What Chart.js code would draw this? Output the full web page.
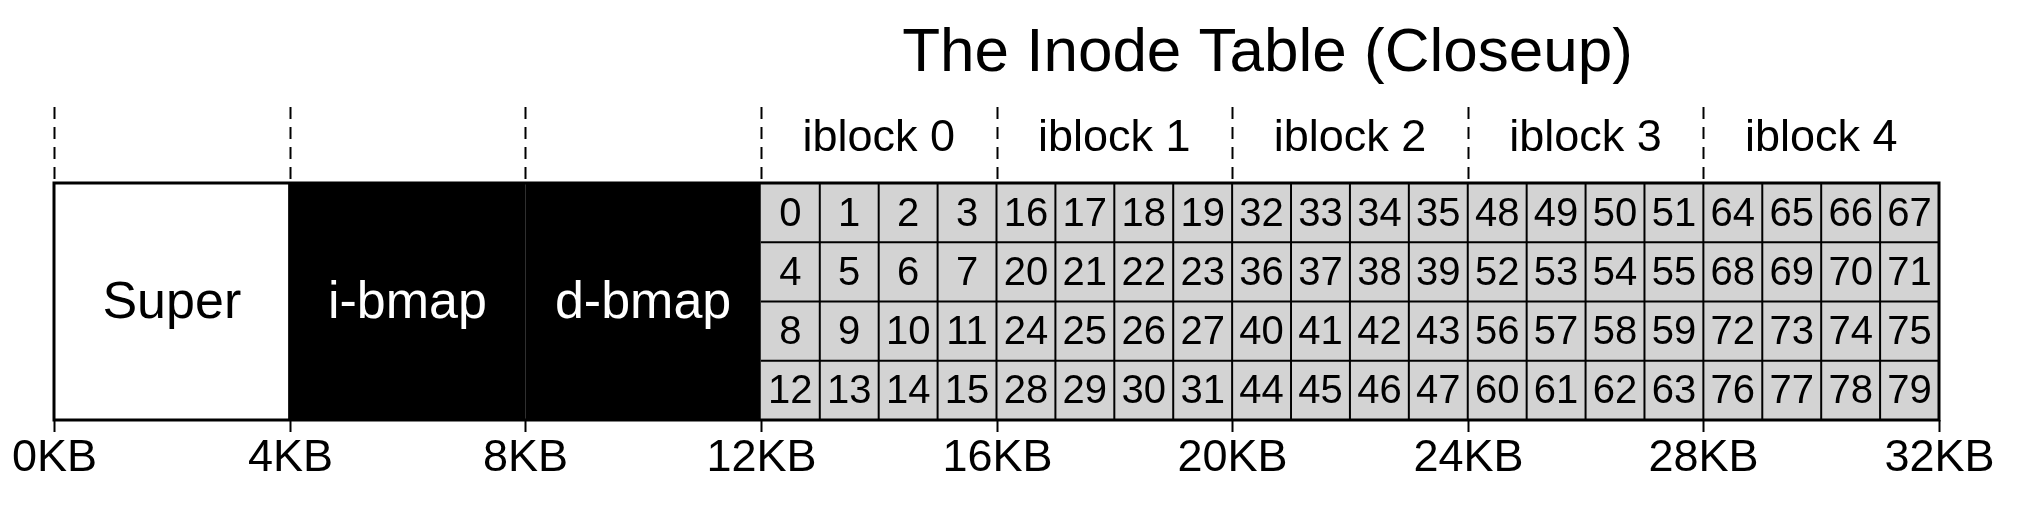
<!DOCTYPE html>
<html lang="en">
<head>
<meta charset="UTF-8">
<title>The Inode Table (Closeup)</title>
<script src="https://cdn.jsdelivr.net/npm/chart.js"></script>
<style>body{margin:0;background:#fff}</style>
</head>
<body>
<canvas id="c" width="2024" height="510"></canvas>
<script>
const title = 'The Inode Table (Closeup)';
const regionNames = ['Super', 'i-bmap', 'd-bmap'];
const regionStart = [0, 4, 8];
const regionEnd = [4, 8, 12];
const iblockNames = ['iblock 0', 'iblock 1', 'iblock 2', 'iblock 3', 'iblock 4'];
const iblockStart = [12, 16, 20, 24, 28];
const rowsPerBlock = 4, colsPerBlock = 4;
const tickValues = [0, 4, 8, 12, 16, 20, 24, 28, 32];
const tickLabels = ['0KB', '4KB', '8KB', '12KB', '16KB', '20KB', '24KB', '28KB', '32KB'];

const FONT = '"Liberation Sans", Arial, sans-serif';

const diagram = {
  id: 'diagram',
  afterDraw(chart) {
    const ctx = chart.ctx, x = chart.scales.x, y = chart.scales.y;
    const top = y.getPixelForValue(4), bot = y.getPixelForValue(0);
    ctx.save();
    ctx.fillStyle = '#000';
    ctx.textAlign = 'center';
    ctx.textBaseline = 'middle';
    ctx.font = '62px ' + FONT;
    ctx.fillText(title, x.getPixelForValue(20.6), 54);

    // dashed separators above the strip
    ctx.strokeStyle = '#000';
    ctx.lineWidth = 2;
    ctx.setLineDash([12, 8]);
    tickValues.slice(0, -1).forEach(v => {
      const px = Math.round(x.getPixelForValue(v)) + 0.5;
      ctx.beginPath(); ctx.moveTo(px, 107); ctx.lineTo(px, top); ctx.stroke();
    });
    ctx.setLineDash([]);

    // iblock labels
    ctx.font = '45px ' + FONT;
    iblockNames.forEach((n, i) => ctx.fillText(n, x.getPixelForValue(iblockStart[i] + 2), 139));

    // regions
    regionNames.forEach((n, i) => {
      const x0 = x.getPixelForValue(regionStart[i]), x1 = x.getPixelForValue(regionEnd[i]);
      ctx.fillStyle = i === 0 ? '#fff' : '#000';
      ctx.fillRect(x0, top, x1 - x0, bot - top);
    });
    ctx.font = '52px ' + FONT;
    regionNames.forEach((n, i) => {
      ctx.fillStyle = i === 0 ? '#000' : '#fff';
      ctx.fillText(n, x.getPixelForValue((regionStart[i] + regionEnd[i]) / 2), (top + bot) / 2 + 2);
    });

    // inode cells
    const cellW = (x.getPixelForValue(1) - x.getPixelForValue(0));
    const x12 = x.getPixelForValue(12), x32 = x.getPixelForValue(32);
    ctx.fillStyle = '#d3d3d3';
    ctx.fillRect(x12, top, x32 - x12, bot - top);
    ctx.strokeStyle = '#000';
    ctx.lineWidth = 2;
    for (let r = 1; r < rowsPerBlock; r++) {
      const py = y.getPixelForValue(4 - r);
      ctx.beginPath(); ctx.moveTo(x12, py); ctx.lineTo(x32, py); ctx.stroke();
    }
    for (let v = 13; v < 32; v++) {
      const px = x.getPixelForValue(v);
      ctx.beginPath(); ctx.moveTo(px, top); ctx.lineTo(px, bot); ctx.stroke();
    }
    ctx.fillStyle = '#000';
    ctx.font = '40px ' + FONT;
    iblockStart.forEach((s, b) => {
      for (let r = 0; r < rowsPerBlock; r++) {
        for (let c = 0; c < colsPerBlock; c++) {
          const num = b * 16 + r * 4 + c;
          ctx.fillText(String(num), x.getPixelForValue(s + c + 0.5), y.getPixelForValue(3.5 - r) + 2, cellW - 4);
        }
      }
    });

    // outer border
    ctx.lineWidth = 3;
    ctx.strokeRect(x.getPixelForValue(0), top, x32 - x.getPixelForValue(0), bot - top);
    const x4 = x.getPixelForValue(4);
    ctx.beginPath(); ctx.moveTo(x4, top); ctx.lineTo(x4, bot); ctx.stroke();

    // bottom ticks and labels
    ctx.lineWidth = 2;
    ctx.font = '45px ' + FONT;
    tickValues.forEach((v, i) => {
      const px = Math.round(x.getPixelForValue(v)) + 0.5;
      ctx.beginPath(); ctx.moveTo(px, bot); ctx.lineTo(px, bot + 12); ctx.stroke();
      ctx.fillText(tickLabels[i], px, 459);
    });
    ctx.restore();
  }
};

new Chart(document.getElementById('c'), {
  type: 'scatter',
  data: { datasets: [{ data: [] }] },
  options: {
    responsive: false,
    animation: false,
    devicePixelRatio: 1,
    layout: { padding: { left: 54, right: 85, top: 183, bottom: 90 } },
    plugins: { legend: { display: false }, tooltip: { enabled: false } },
    scales: {
      x: { type: 'linear', min: 0, max: 32, display: false },
      y: { type: 'linear', min: 0, max: 4, display: false }
    }
  },
  plugins: [diagram]
});
</script>
</body>
</html>
